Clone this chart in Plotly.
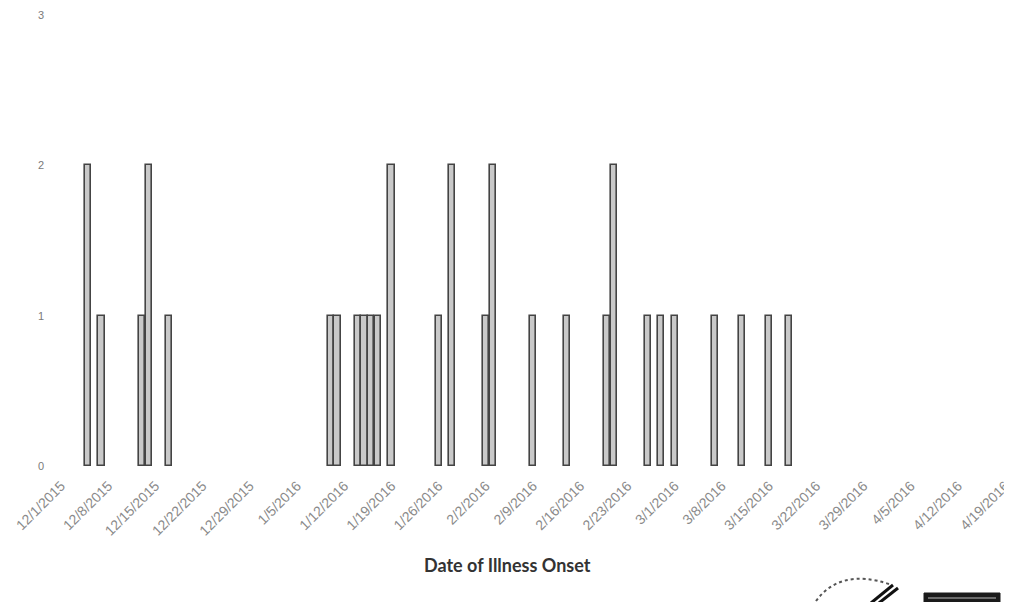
import plotly.graph_objects as go

# Data
onset_dates = ["2015-12-05", "2015-12-07", "2015-12-13", "2015-12-14", "2015-12-17",
               "2016-01-10", "2016-01-11", "2016-01-14", "2016-01-15", "2016-01-16",
               "2016-01-17", "2016-01-19", "2016-01-26", "2016-01-28", "2016-02-02",
               "2016-02-03", "2016-02-09", "2016-02-14", "2016-02-20", "2016-02-21",
               "2016-02-26", "2016-02-28", "2016-03-01", "2016-03-07", "2016-03-11",
               "2016-03-15", "2016-03-18"]
case_counts = [2, 1, 1, 2, 1,
               1, 1, 1, 1, 1,
               1, 2, 1, 2, 1,
               2, 1, 1, 1, 2,
               1, 1, 1, 1, 1,
               1, 1]

tick_dates = ["2015-12-01", "2015-12-08", "2015-12-15", "2015-12-22", "2015-12-29",
              "2016-01-05", "2016-01-12", "2016-01-19", "2016-01-26", "2016-02-02",
              "2016-02-09", "2016-02-16", "2016-02-23", "2016-03-01", "2016-03-08",
              "2016-03-15", "2016-03-22", "2016-03-29", "2016-04-05", "2016-04-12",
              "2016-04-19"]
tick_labels = ["12/1/2015", "12/8/2015", "12/15/2015", "12/22/2015", "12/29/2015",
               "1/5/2016", "1/12/2016", "1/19/2016", "1/26/2016", "2/2/2016",
               "2/9/2016", "2/16/2016", "2/23/2016", "3/1/2016", "3/8/2016",
               "3/15/2016", "3/22/2016", "3/29/2016", "4/5/2016", "4/12/2016",
               "4/19/2016"]
y_ticks = [0, 1, 2, 3]

DAY_MS = 86400000
OFF = 8  # page body margin
W, H = 1012 - OFF, 602 - OFF
# target plot area in screenshot pixels
L, R, T, B = 61, 1006, 15, 466
PW, PH = R - L, B - T


def px(x):
    return (x - L) / PW


def py(y):
    return (B - y) / PH


fig = go.Figure()
fig.add_trace(go.Bar(
    x=onset_dates,
    y=case_counts,
    width=[DAY_MS * 0.92] * len(onset_dates),
    marker=dict(color="#c9c9c9", line=dict(color="#444444", width=1.6)),
    showlegend=False,
))

fig.update_layout(
    width=W, height=H,
    margin=dict(l=L - OFF, r=1012 - R, t=T - OFF, b=602 - B, autoexpand=False),
    paper_bgcolor="white",
    plot_bgcolor="white",
    font=dict(family="Liberation Sans, Arial, sans-serif", color="#888888"),
    bargap=0,
    xaxis=dict(
        type="date",
        range=["2015-12-01", "2016-04-19 03:00"],
        tickvals=tick_dates,
        ticktext=tick_labels,
        tickangle=-45,
        tickfont=dict(size=14, color="#8a8a8a"),
        showgrid=False,
        showline=False,
        zeroline=False,
        ticks="",
        automargin=False,
        ticklabeloverflow="allow",
        ticklabelstandoff=8,
    ),
    yaxis=dict(
        range=[0, 3],
        tickvals=y_ticks,
        tickfont=dict(size=11, color="#7a7a7a"),
        showgrid=False,
        showline=False,
        zeroline=False,
        ticks="",
        automargin=False,
        ticklabelstandoff=16,
    ),
    annotations=[
        dict(text="<b>Date of Illness Onset</b>", xref="paper", yref="paper",
             x=px(507), y=py(565), xanchor="center", yanchor="middle",
             showarrow=False, font=dict(family="Lato, sans-serif", size=18, color="#333333")),
    ],
    shapes=[
        # partial logo: dotted arc
        dict(type="path", xref="paper", yref="paper", layer="above",
             path="M {x0},{y0} Q {x1},{y1} {x2},{y2}".format(
                 x0=px(816), y0=py(601), x1=px(840), y1=py(568), x2=px(889), y2=py(584)),
             line=dict(color="#555555", width=2, dash="dot")),
        # diagonal strokes
        dict(type="line", xref="paper", yref="paper", layer="above",
             x0=px(871), y0=py(603), x1=px(893), y1=py(585),
             line=dict(color="#111111", width=3)),
        dict(type="line", xref="paper", yref="paper", layer="above",
             x0=px(879), y0=py(603), x1=px(898), y1=py(588),
             line=dict(color="#111111", width=3)),
        # dark box
        dict(type="rect", xref="paper", yref="paper", layer="above",
             x0=px(924), y0=py(603), x1=px(1000), y1=py(593),
             fillcolor="#1a1a1a", line=dict(color="#1a1a1a", width=1)),
        dict(type="line", xref="paper", yref="paper", layer="above",
             x0=px(928), y0=py(598), x1=px(996), y1=py(598),
             line=dict(color="#bbbbbb", width=1)),
    ],
)

fig.write_html("out.html")
